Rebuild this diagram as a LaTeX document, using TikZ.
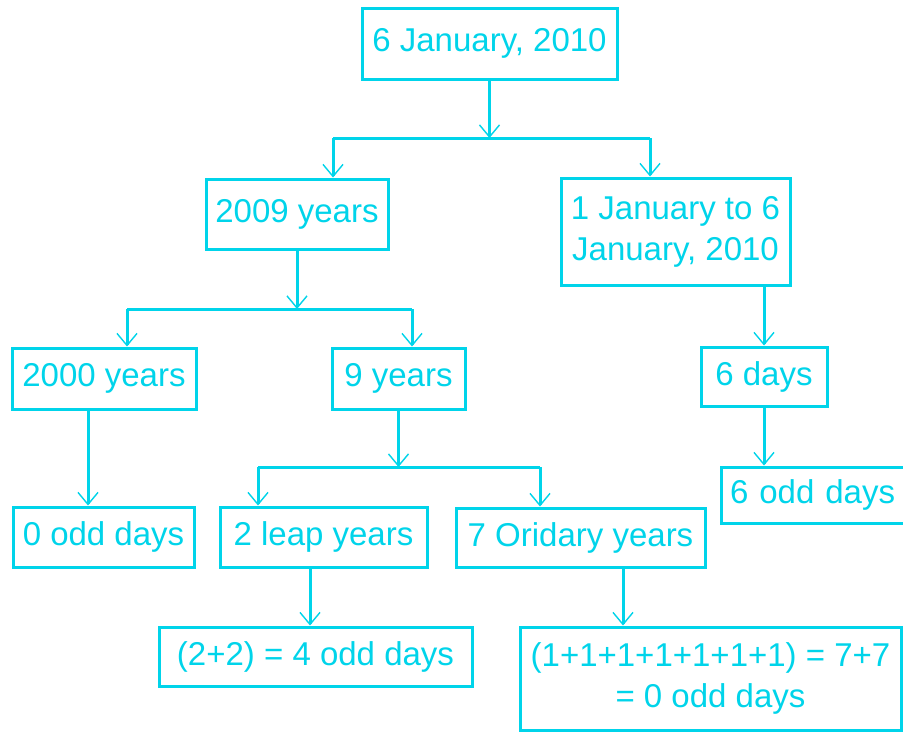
\documentclass[tikz,border=0pt]{standalone}
\usepackage{fontspec}
\setmainfont{Liberation Sans}
\usetikzlibrary{arrows.meta}
\definecolor{cy}{RGB}{0,212,234}
\begin{document}
\begin{tikzpicture}[x=1pt,y=-1pt,
  box/.style={draw=cy,line width=3pt,text=cy,inner sep=0pt,align=center,
    font=\fontsize{33}{41}\selectfont},
  ln/.style={draw=cy,line width=3pt},
  arr/.style={draw=cy,line width=3pt,-{Straight Barb[length=12pt,width=20pt,line width=1.4pt]}}]
\useasboundingbox (0,0) rectangle (903,732);
\clip (0,0) rectangle (903,732);
\fill[white] (0,0) rectangle (903,732);
% nodes
\node[box,minimum width=255pt,minimum height=71pt] (n1) at (489.5,43.5) {6 January, 2010};
\node[box,minimum width=182pt,minimum height=70pt] (n2) at (297,214) {2009 years};
\node[box,minimum width=229pt,minimum height=107pt] (n3) at (675.5,231.5) {1 January to 6\\January, 2010};
\node[box,minimum width=184pt,minimum height=61pt] (n4) at (104,378.5) {2000 years};
\node[box,minimum width=133pt,minimum height=61pt] (n5) at (398.5,378.5) {9 years};
\node[box,minimum width=126pt,minimum height=59pt] (n6) at (764,376.5) {6 days};
\node[box,minimum width=181pt,minimum height=60pt] (n7) at (103.5,537) {0 odd days};
\node[box,minimum width=207pt,minimum height=60pt] (n8) at (323.5,537) {2 leap years};
\node[box,minimum width=249pt,minimum height=59pt] (n9) at (580.5,537.5) {7 Oridary years};
\node[box,minimum width=200pt,minimum height=56pt,text width=190pt,align=left,inner xsep=9pt] (n10) at (825,495) {6 odd days};
\node[box,minimum width=313pt,minimum height=59pt] (n11) at (315.5,656.5) {(2+2) = 4 odd days};
\node[box,minimum width=381pt,minimum height=103pt] (n12) at (710.5,678.5) {(1+1+1+1+1+1+1) = 7+7\\= 0 odd days};
% junction coordinates
\coordinate (j1) at (489.5,138);
\coordinate (j1l) at (333,138);
\coordinate (j1r) at (650,138);
\coordinate (j2) at (297,309);
\coordinate (j2l) at (127,309);
\coordinate (j2r) at (412,309);
\coordinate (j3) at (398.5,467);
\coordinate (j3l) at (258,467);
\coordinate (j3r) at (540,467);
% connectors
\draw[arr] (n1.south) -- (j1);
\draw[ln] (j1l) -- (j1r);
\draw[arr] (j1l) -- (j1l |- n2.north);
\draw[arr] (j1r) -- (j1r |- n3.north);
\draw[arr] (n2.south) -- (j2);
\draw[ln] (j2l) -- (j2r);
\draw[arr] (j2l) -- (j2l |- n4.north);
\draw[arr] (j2r) -- (j2r |- n5.north);
\draw[arr] (n3.south -| n6.north) -- (n6.north);
\draw[arr] (n4.south -| 88,0) -- (n7.north -| 88,0);
\draw[arr] (n5.south) -- (j3);
\draw[ln] (j3l) -- (j3r);
\draw[arr] (j3l) -- (j3l |- n8.north);
\draw[arr] (j3r) -- (j3r |- n9.north);
\draw[arr] (n6.south) -- (n6.south |- n10.north);
\draw[arr] (n8.south -| 310,0) -- (n11.north -| 310,0);
\draw[arr] (n9.south -| 623,0) -- (n12.north -| 623,0);
\end{tikzpicture}
\end{document}
